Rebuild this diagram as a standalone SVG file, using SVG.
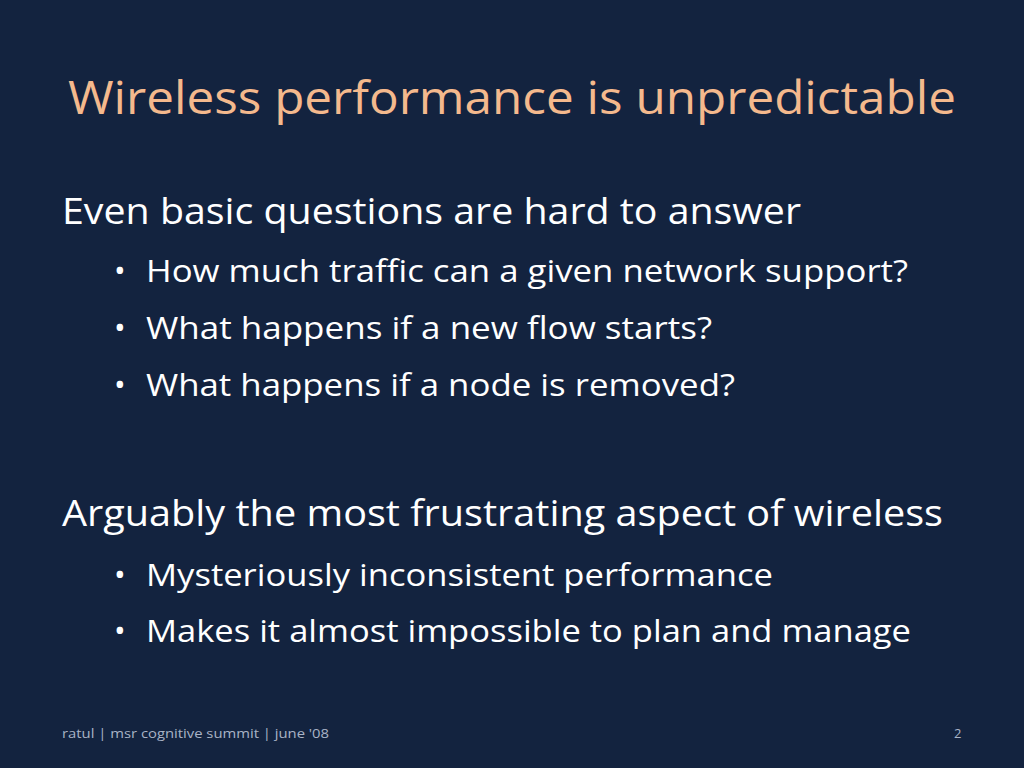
<svg xmlns="http://www.w3.org/2000/svg" width="1024" height="768" viewBox="0 0 1024 768">
<style>
text{font-family:"Open Sans","Noto Sans",sans-serif;}
.t{fill:#F4B98D;font-size:46px}
.h{fill:#FFFFFF;font-size:36px}
.b{fill:#FFFFFF;font-size:31px}
.f{fill:#A9B3C6;font-size:13px}
</style>
<rect width="1024" height="768" fill="#13233F"/>
<text class="t" x="68" y="114" textLength="888" lengthAdjust="spacingAndGlyphs">Wireless performance is unpredictable</text>
<text class="h" x="62" y="224" textLength="739" lengthAdjust="spacingAndGlyphs">Even basic questions are hard to answer</text>
<text class="b" x="114" y="282">•</text>
<text class="b" x="146" y="282" textLength="762" lengthAdjust="spacingAndGlyphs">How much traffic can a given network support?</text>
<text class="b" x="114" y="339">•</text>
<text class="b" x="146" y="339" textLength="566" lengthAdjust="spacingAndGlyphs">What happens if a new flow starts?</text>
<text class="b" x="114" y="396">•</text>
<text class="b" x="146" y="396" textLength="589" lengthAdjust="spacingAndGlyphs">What happens if a node is removed?</text>
<text class="h" x="62" y="526" textLength="881" lengthAdjust="spacingAndGlyphs">Arguably the most frustrating aspect of wireless</text>
<text class="b" x="114" y="586">•</text>
<text class="b" x="146" y="586" textLength="627" lengthAdjust="spacingAndGlyphs">Mysteriously inconsistent performance</text>
<text class="b" x="114" y="642">•</text>
<text class="b" x="146" y="642" textLength="765" lengthAdjust="spacingAndGlyphs">Makes it almost impossible to plan and manage</text>
<text class="f" x="62" y="738" textLength="267" lengthAdjust="spacingAndGlyphs">ratul | msr cognitive summit | june '08</text>
<text class="f" x="954" y="738">2</text>
</svg>
